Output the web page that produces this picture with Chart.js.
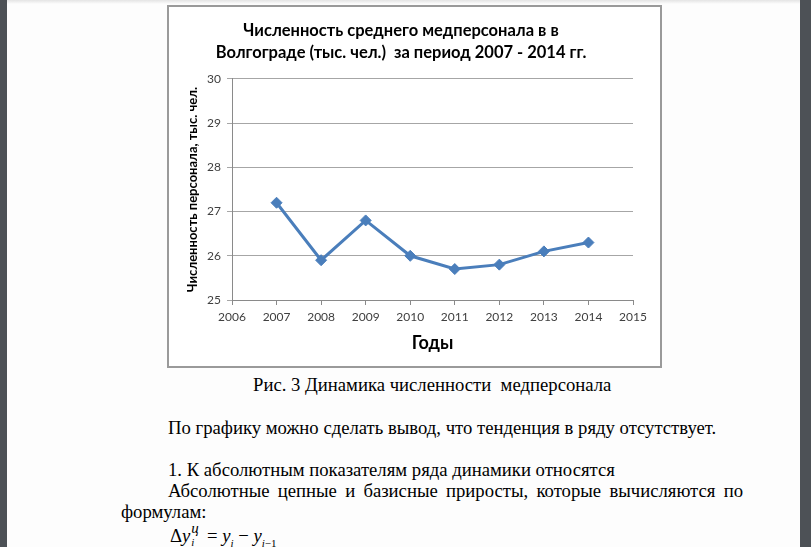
<!DOCTYPE html>
<html lang="ru">
<head>
<meta charset="utf-8">
<script src="https://cdn.jsdelivr.net/npm/chart.js@4"></script>
<style>
  html, body { margin: 0; padding: 0; }
  body { width: 811px; height: 547px; position: relative; overflow: hidden; background: #fdfdfd; font-family: "Liberation Serif", serif; color: #000; }
  .top-shade { position: absolute; left: 0; top: 0; width: 811px; height: 4px; background: linear-gradient(#e4e4e4, #fdfdfd); }
  .side { position: absolute; top: 0; height: 547px; background: #4d5156; }
  .box { position: absolute; left: 167px; top: 5px; width: 491px; height: 359px; border: 2px solid #9a9a9a; background: #fff; }
  .txt { position: absolute; font-size: 18.7px; line-height: 21px; white-space: nowrap; }
  .just { text-align: justify; text-align-last: justify; white-space: normal; }
  .ss { display: inline-block; position: relative; width: 12px; height: 10px; }
  .ss i { position: absolute; left: 1px; }
</style>
</head>
<body>
<div class="top-shade"></div>
<div class="side" style="left:0;width:7px"></div>
<div class="side" style="left:800px;width:11px"></div>

<div class="box"><canvas id="grafica" width="491" height="359"></canvas></div>

<div class="txt" style="left:253px;top:374px">Рис. 3 Динамика численности&nbsp; медперсонала</div>
<div class="txt" style="left:168px;top:417px">По графику можно сделать вывод, что тенденция в ряду отсутствует.</div>
<div class="txt" style="left:168px;top:459px">1. К абсолютным показателям ряда динамики относятся</div>
<div class="txt just" style="left:168px;top:480px;width:575px">Абсолютные цепные и базисные приросты, которые вычисляются по</div>
<div class="txt" style="left:121px;top:501px">формулам:</div>
<div class="txt" style="left:170px;top:525px">Δ<i>y</i><span class="ss"><i style="top:-11px;font-size:15px;line-height:15px">ц</i><i style="top:5px;font-size:11px;line-height:11px">i</i></span> = <i>y</i><sub style="font-size:11px"><i>i</i></sub> − <i>y</i><sub style="font-size:11px"><i>i</i>−1</sub></div>

<script>
// данные графика
const years = [2007, 2008, 2009, 2010, 2011, 2012, 2013, 2014];
const staff = [27.2, 25.9, 26.8, 26.0, 25.7, 25.8, 26.1, 26.3];
const xTicks = [2006, 2007, 2008, 2009, 2010, 2011, 2012, 2013, 2014, 2015];
const yTicks = [25, 26, 27, 28, 29, 30];

const chartTitle = ['Численность среднего медперсонала в в', 'Волгограде (тыс. чел.)  за период 2007 - 2014 гг.'];
const xTitle = 'Годы';
const yTitle = 'Численность персонала, тыс. чел.';

let puntos = years.map(function (y, i) { return { x: y, y: staff[i] }; });

let canvas = document.getElementById('grafica');
let fuente = 'Lato, "Open Sans", sans-serif';

new Chart(canvas, {
    type: 'line',
    data: {
        datasets: [{
            data: puntos,
            borderColor: '#4a7ebb',
            backgroundColor: '#4a7ebb',
            borderWidth: 3,
            pointStyle: 'rectRot',
            pointRadius: 5.5,
            pointBorderWidth: 1,
            tension: 0
        }]
    },
    options: {
        responsive: false,
        animation: false,
        layout: { padding: { left: 0, right: 27, top: 0, bottom: 0 } },
        plugins: {
            legend: { display: false },
            tooltip: { enabled: false },
            title: {
                display: true,
                text: chartTitle,
                color: '#000',
                font: { family: fuente, size: 16.5, weight: 'bold', lineHeight: 1.333 },
                padding: { top: 13, bottom: 15 }
            }
        },
        scales: {
            x: {
                type: 'linear',
                min: xTicks[0],
                max: xTicks[xTicks.length - 1],
                afterBuildTicks: function (s) { s.ticks = xTicks.map(function (v) { return { value: v }; }); },
                afterFit: function (s) { s.height = 66; },
                ticks: {
                    color: '#404040',
                    font: { family: fuente, size: 12 },
                    padding: 5,
                    maxRotation: 0,
                    callback: function (v) { return String(v); }
                },
                grid: { drawOnChartArea: false, drawTicks: true, tickLength: 5, color: '#8a8a8a' },
                border: { color: '#8a8a8a', width: 1 },
                title: {
                    display: true,
                    text: xTitle,
                    color: '#000',
                    font: { family: fuente, size: 18, weight: 'bold' },
                    padding: { top: 4, bottom: 12 }
                }
            },
            y: {
                min: yTicks[0],
                max: yTicks[yTicks.length - 1],
                afterBuildTicks: function (s) { s.ticks = yTicks.map(function (v) { return { value: v }; }); },
                afterFit: function (s) { s.width = 63; },
                ticks: {
                    color: '#404040',
                    font: { family: fuente, size: 12 },
                    padding: 6
                },
                grid: { color: '#a6a6a6', tickLength: 5 },
                border: { color: '#8a8a8a', width: 1 },
                title: {
                    display: true,
                    text: yTitle,
                    color: '#000',
                    font: { family: fuente, size: 13, weight: 'bold' },
                    padding: { top: 16, bottom: 0 }
                }
            }
        }
    }
});
</script>
</body>
</html>
